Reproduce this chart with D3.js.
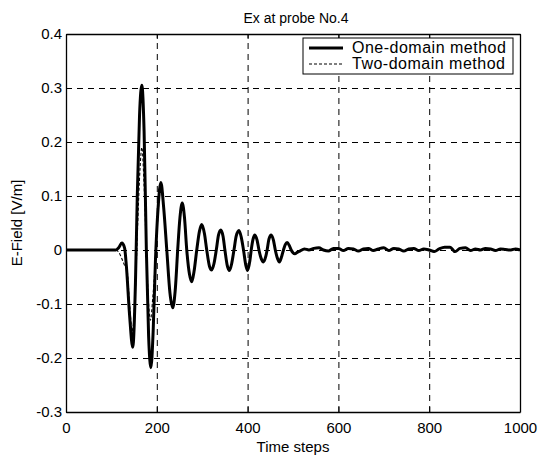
<!DOCTYPE html>
<html>
<head>
<meta charset="utf-8">
<script src="https://cdn.jsdelivr.net/npm/d3@7"></script>
<style>
  html, body { margin: 0; padding: 0; background: #fff; }
  svg { display: block; }
  text { font-family: "Liberation Sans", Arial, Helvetica, sans-serif; fill: #000; }
</style>
</head>
<body>
<div id="chart"></div>
<script>
// ---- data ----
const title = "Ex at probe No.4";
const xLabel = "Time steps";
const yLabel = "E-Field [V/m]";
const xTicks = [0, 200, 400, 600, 800, 1000];
const yTicks = [-0.3, -0.2, -0.1, 0, 0.1, 0.2, 0.3, 0.4];
const seriesNames = ["One-domain method", "Two-domain method"];

// One-domain method: time step, field value
const oneT = [0, 100, 110, 116, 123, 129, 133, 140, 147, 153, 157, 162, 167, 172, 177, 182, 187, 192, 197, 203, 209, 215, 222, 229, 235, 241, 246, 251, 256, 261, 266, 272, 277, 282, 288, 294, 299, 305, 310, 316, 321, 326, 331, 336, 341, 346, 350, 355, 360, 365, 370, 375, 381, 386, 391, 396, 400, 405, 408, 412, 416, 421, 425, 430, 435, 440, 443, 447, 452, 457, 461, 466, 470, 475, 479, 483, 487, 492, 496, 500, 504, 510, 515, 525, 535, 546, 557, 567, 578, 589, 600, 611, 622, 633, 644, 655, 666, 677, 688, 700, 711, 722, 733, 744, 755, 766, 777, 788, 800, 811, 822, 834, 846, 857, 868, 880, 891, 902, 913, 924, 935, 946, 957, 968, 980, 990, 1000];
const oneV = [0, 0, 0, 0.004, 0.013, 0.004, -0.03, -0.12, -0.18, -0.06, 0.10, 0.25, 0.305, 0.22, 0.0, -0.16, -0.218, -0.15, -0.02, 0.08, 0.125, 0.08, 0.0, -0.08, -0.107, -0.07, 0.0, 0.06, 0.087, 0.06, 0.0, -0.045, -0.059, -0.04, 0.0, 0.035, 0.047, 0.03, 0.0, -0.03, -0.037, -0.025, 0.0, 0.028, 0.037, 0.025, 0.0, -0.028, -0.038, -0.025, 0.0, 0.026, 0.036, 0.024, 0.0, -0.028, -0.038, -0.02, 0.0, 0.02, 0.028, 0.018, 0.0, -0.016, -0.022, -0.012, 0.0, 0.02, 0.028, 0.018, 0.0, -0.016, -0.022, -0.012, 0.0, 0.010, 0.014, 0.008, 0.0, -0.005, -0.007, -0.004, -0.002, 0.002, 0.0, 0.003, 0.004, 0.0, -0.002, 0.003, 0.003, -0.001, 0.003, 0.002, -0.002, 0.002, 0.003, -0.001, 0.002, 0.004, -0.001, 0.003, 0.002, -0.002, 0.002, 0.003, -0.001, 0.002, 0.0, -0.003, 0.002, 0.005, 0.005, -0.003, 0.003, 0.004, -0.001, 0.002, 0.0, 0.003, 0.002, -0.001, 0.002, 0.001, 0.0, 0.002, 0.0];

// Two-domain method: differs only in the early part, then coincides
const twoT = [0, 110, 116, 124, 130, 134, 140, 146, 153, 158, 163, 167, 172, 177, 182, 186, 191, 197, 203, 209, 215, 222, 229, 235, 241, 246, 251, 256, 261, 266, 272, 277, 282, 288, 294, 299, 305, 310, 316, 321, 326, 331, 336, 341, 346, 350, 355, 360, 365, 370, 375, 381, 386, 391, 396, 400, 405, 408, 412, 416, 421, 425, 430, 435, 440, 443, 447, 452, 457, 461, 466, 470, 475, 479, 483, 487, 492, 496, 500, 504, 510, 515, 525, 535, 546, 557, 567, 578, 589, 600, 611, 622, 633, 644, 655, 666, 677, 688, 700, 711, 722, 733, 744, 755, 766, 777, 788, 800, 811, 822, 834, 846, 857, 868, 880, 891, 902, 913, 924, 935, 946, 957, 968, 980, 990, 1000];
const twoV = [0, 0, -0.004, -0.018, -0.03, -0.034, -0.1, -0.15, -0.07, 0.05, 0.15, 0.19, 0.12, 0.0, -0.1, -0.13, -0.09, -0.02, 0.07, 0.115, 0.08, 0.0, -0.08, -0.105, -0.07, 0.0, 0.06, 0.085, 0.06, 0.0, -0.045, -0.058, -0.04, 0.0, 0.035, 0.046, 0.03, 0.0, -0.03, -0.037, -0.025, 0.0, 0.028, 0.037, 0.025, 0.0, -0.028, -0.038, -0.025, 0.0, 0.026, 0.036, 0.024, 0.0, -0.028, -0.038, -0.02, 0.0, 0.02, 0.028, 0.018, 0.0, -0.016, -0.022, -0.012, 0.0, 0.02, 0.028, 0.018, 0.0, -0.016, -0.022, -0.012, 0.0, 0.010, 0.014, 0.008, 0.0, -0.005, -0.007, -0.004, -0.002, 0.002, 0.0, 0.003, 0.004, 0.0, -0.002, 0.003, 0.003, -0.001, 0.003, 0.002, -0.002, 0.002, 0.003, -0.001, 0.002, 0.004, -0.001, 0.003, 0.002, -0.002, 0.002, 0.003, -0.001, 0.002, 0.0, -0.003, 0.002, 0.005, 0.005, -0.003, 0.003, 0.004, -0.001, 0.002, 0.0, 0.003, 0.002, -0.001, 0.002, 0.001, 0.0, 0.002, 0.0];

// ---- layout ----
const W = 542, H = 460;
const margin = { left: 66, top: 34, right: 22, bottom: 48 };
const iw = W - margin.left - margin.right;  // 454
const ih = H - margin.top - margin.bottom;  // 378

const svg = d3.select("#chart").append("svg").attr("width", W).attr("height", H);
const g = svg.append("g").attr("transform", `translate(${margin.left},${margin.top})`);

const x = d3.scaleLinear().domain([0, 1000]).range([0, iw]);
const y = d3.scaleLinear().domain([-0.3, 0.4]).range([ih, 0]);

// grid
g.append("g").attr("class", "grid").attr("transform", `translate(0,${ih})`)
  .call(d3.axisBottom(x).tickValues(xTicks.slice(1, -1)).tickSize(-ih).tickFormat(""))
  .call(s => s.select(".domain").remove());
g.append("g").attr("class", "grid")
  .call(d3.axisLeft(y).tickValues(yTicks.slice(1, -1)).tickSize(-iw).tickFormat(""))
  .call(s => s.select(".domain").remove());
g.selectAll(".grid line").attr("stroke", "#000").attr("stroke-width", 1).attr("stroke-dasharray", "6,5");

// lines
const lineGen = d3.line().x(d => x(d[0])).y(d => y(d[1])).curve(d3.curveMonotoneX);
const oneData = oneT.map((t, i) => [t, oneV[i]]);
const twoData = twoT.map((t, i) => [t, twoV[i]]);

g.append("path").datum(oneData).attr("d", lineGen)
  .attr("fill", "none").attr("stroke", "#000").attr("stroke-width", 3).attr("stroke-linejoin", "round");
g.append("path").datum(twoData).attr("d", lineGen)
  .attr("fill", "none").attr("stroke", "#000").attr("stroke-width", 1.1).attr("stroke-dasharray", "3,2");

// axes
const fs = 15;
g.append("g").attr("transform", `translate(0,${ih})`)
  .call(d3.axisBottom(x).tickValues(xTicks).tickSize(-5).tickSizeOuter(0).tickPadding(10).tickFormat(d3.format("d")));
const yAxis = g.append("g")
  .call(d3.axisLeft(y).tickValues(yTicks).tickSize(-5).tickSizeOuter(0).tickPadding(4));
g.append("g").call(d3.axisTop(x).tickValues(xTicks).tickSize(-5).tickSizeOuter(0).tickFormat(""));
g.append("g").attr("transform", `translate(${iw},0)`)
  .call(d3.axisRight(y).tickValues(yTicks).tickSize(-5).tickSizeOuter(0).tickFormat(""));
g.selectAll(".domain").attr("stroke", "#000").attr("stroke-width", 1.3);
g.selectAll(".tick line").filter(function () { return !this.closest(".grid"); }).attr("stroke", "#000");
g.selectAll(".tick text").attr("font-size", fs).attr("font-family", "Liberation Sans, Arial, sans-serif").attr("fill", "#000");
yAxis.selectAll(".tick text").text(d => d === 0 ? "0" : d3.format(".1f")(d).replace("−", "-"));

// titles
svg.append("text").attr("x", margin.left + iw / 2 + 3).attr("y", 23)
  .attr("text-anchor", "middle").attr("font-size", 14).text(title);
svg.append("text").attr("x", margin.left + iw / 2).attr("y", 452)
  .attr("text-anchor", "middle").attr("font-size", fs).text(xLabel);
svg.append("text").attr("transform", `translate(22,${margin.top + ih / 2}) rotate(-90)`)
  .attr("text-anchor", "middle").attr("font-size", fs).text(yLabel);

// legend
const lg = svg.append("g").attr("transform", "translate(303,38)");
lg.append("rect").attr("width", 210).attr("height", 36).attr("fill", "#fff").attr("stroke", "#000").attr("stroke-width", 1);
const items = [
  { name: seriesNames[0], w: 3, dash: null },
  { name: seriesNames[1], w: 1.1, dash: "3,2" }
];
items.forEach((it, i) => {
  const yy = 10 + i * 16;
  lg.append("line").attr("x1", 6).attr("x2", 40).attr("y1", yy).attr("y2", yy)
    .attr("stroke", "#000").attr("stroke-width", it.w).attr("stroke-dasharray", it.dash);
  lg.append("text").attr("x", 49).attr("y", yy + 5).attr("font-size", 16)
    .attr("letter-spacing", 0.5).text(it.name);
});
</script>
</body>
</html>
